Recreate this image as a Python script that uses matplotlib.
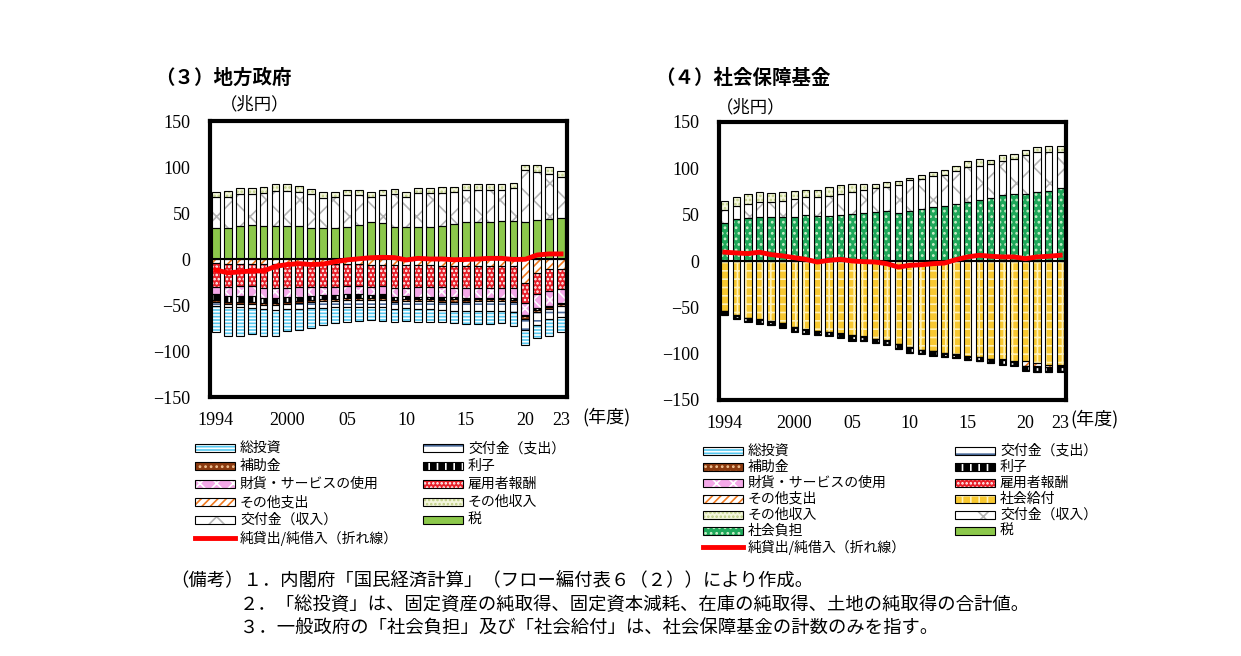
import matplotlib
matplotlib.use('Agg')
import matplotlib.pyplot as plt
from matplotlib.patches import Rectangle
import numpy as np

plt.rcParams['font.family'] = ['Noto Sans CJK JP', 'DejaVu Sans']
plt.rcParams['hatch.linewidth'] = 1.2

W, H = 1241, 656

years = list(range(1994, 2024))
tick_pos = [0, 6, 11, 16, 21, 26, 29]
tick_labels = ['1994', '2000', '05', '10', '15', '20', '23']

# ---- (3) 地方政府 (兆円) ----
loc_tax = [33.3, 34.0, 36.2, 37.0, 36.2, 36.2, 36.2, 36.2, 34.0, 33.3,
           34.0, 35.0, 37.0, 40.6, 39.5, 35.0, 35.0, 35.0, 35.0, 36.2,
           37.7, 39.9, 40.6, 40.6, 41.3, 41.7, 40.6, 42.4, 43.5, 45.0]
loc_transfer_in = [33.7, 33.8, 34.1, 33.3, 35.2, 38.1, 38.1, 37.0, 36.3, 32.6,
                   33.8, 34.6, 32.6, 27.2, 30.1, 35.7, 32.0, 36.4, 36.4, 35.8,
                   35.5, 35.1, 34.4, 34.4, 33.7, 35.1, 56.1, 52.6, 48.9, 43.8]
loc_other_in = [6.2, 6.5, 6.5, 6.5, 6.5, 6.9, 6.9, 6.1, 5.4, 6.6,
                5.4, 5.4, 5.4, 5.4, 5.4, 5.0, 6.2, 5.4, 5.4, 5.9,
                5.4, 6.2, 6.2, 6.2, 6.2, 6.2, 5.3, 7.0, 8.0, 7.2]
loc_other_out = [-4.7, -5.0, -5.0, -5.0, -5.0, -5.0, -5.2, -5.2, -5.4, -5.5,
                 -5.5, -5.6, -5.8, -6.0, -6.2, -6.5, -6.8, -7.0, -7.0, -7.2,
                 -7.2, -7.4, -7.4, -7.4, -7.5, -7.6, -25.7, -15.6, -11.2, -11.2]
loc_comp = [-25.3, -25.0, -24.5, -24.5, -27.0, -26.5, -25.8, -25.3, -24.6, -24.5,
            -24.5, -23.4, -23.2, -24.0, -22.8, -24.5, -24.2, -23.0, -23.0, -22.8,
            -23.8, -23.6, -23.6, -23.6, -23.5, -23.4, -21.8, -22.4, -23.6, -21.8]
loc_goods = [-8.4, -10.2, -10.7, -10.7, -10.0, -10.5, -10.0, -10.5, -10.2, -9.0,
             -9.0, -9.4, -9.4, -9.0, -9.4, -10.0, -9.2, -11.0, -11.0, -11.7,
             -10.7, -11.0, -11.0, -11.0, -11.0, -11.7, -13.5, -15.6, -15.9, -14.5]
loc_interest = [-6.0, -6.2, -6.2, -6.0, -5.8, -5.6, -5.3, -5.0, -4.7, -4.4,
                -4.1, -3.9, -3.7, -3.6, -3.5, -3.3, -3.1, -2.9, -2.7, -2.5,
                -2.3, -2.1, -1.9, -1.7, -1.6, -1.5, -1.4, -1.3, -1.2, -1.2]
loc_subsidy = [-2.2, -2.2, -2.2, -2.2, -2.2, -2.2, -2.2, -2.2, -2.2, -2.2,
               -2.2, -2.2, -2.2, -2.2, -2.2, -2.2, -2.2, -2.2, -2.2, -2.2,
               -2.2, -2.2, -2.2, -2.2, -2.2, -2.2, -3.0, -3.0, -2.5, -2.5]
loc_transfer_out = [-4.1, -3.2, -3.2, -4.6, -4.3, -5.6, -5.8, -6.1, -6.4, -7.9,
                    -6.5, -7.3, -7.5, -7.0, -7.7, -8.2, -8.0, -8.6, -8.8, -9.0,
                    -9.8, -9.7, -9.9, -10.1, -10.2, -11.2, -11.6, -13.5, -10.6, -11.5]
loc_invest = [-29.0, -31.5, -31.5, -29.0, -29.0, -27.9, -24.3, -22.7, -21.9, -18.2,
              -18.2, -16.2, -15.2, -14.5, -15.9, -14.1, -13.5, -13.3, -13.3, -13.4,
              -14.0, -14.5, -14.5, -14.5, -14.0, -14.9, -17.0, -14.6, -18.5, -16.3]
loc_net = [-12.0, -15.0, -14.0, -13.0, -13.0, -8.0, -6.0, -5.0, -6.0, -5.5,
           -3.0, -1.0, 0.2, 1.4, 1.8, 1.5, -1.0, 0.7, 0.0, 0.0,
           -0.8, -0.5, 0.0, 0.7, 0.7, -0.5, -0.3, 4.4, 5.5, 5.5]

# ---- (4) 社会保障基金 (兆円) ----
ss_tax = [0.0] * 30
ss_contrib = [41.5, 45.0, 46.2, 47.3, 47.3, 47.3, 47.3, 49.5, 48.4, 48.4,
              49.5, 50.5, 51.6, 53.0, 54.2, 51.6, 54.2, 56.0, 58.0, 59.6,
              61.5, 64.0, 65.8, 68.0, 71.3, 72.4, 72.7, 74.5, 75.6, 78.9]
ss_transfer_in = [13.0, 14.0, 15.3, 16.3, 16.3, 17.7, 19.7, 19.5, 20.6, 22.1,
                  22.9, 24.0, 25.4, 26.0, 25.4, 30.6, 32.7, 32.7, 33.3, 33.4,
                  35.2, 37.5, 36.7, 36.4, 36.3, 37.4, 41.5, 43.3, 42.4, 38.9]
ss_other_in = [9.9, 10.0, 10.9, 10.9, 9.9, 9.5, 8.3, 7.4, 7.4, 9.1,
               9.8, 8.8, 6.3, 4.3, 5.9, 4.3, 2.9, 4.3, 4.3, 4.8,
               6.2, 6.9, 7.3, 5.1, 6.6, 5.5, 5.4, 4.7, 5.6, 5.8]
ss_benefit = [-53.8, -58.5, -61.0, -62.9, -64.7, -66.9, -71.3, -73.8, -75.6, -76.3,
              -78.2, -80.0, -81.4, -84.0, -85.4, -89.4, -93.0, -95.6, -96.7, -99.2,
              -100.3, -102.9, -103.2, -105.4, -106.2, -108.3, -107.6, -110.2, -112.0, -112.7]
ss_other_out = [-0.2] * 26 + [-5.5, -3.5, -2.0, -0.8]
ss_comp = [-0.2] * 30
ss_goods = [-0.3] * 30
ss_interest = [-2.9, -2.6, -2.6, -2.9, -2.9, -3.3, -3.2, -2.9, -2.9, -2.6,
               -2.9, -4.0, -3.3, -2.9, -3.3, -3.7, -4.4, -2.6, -3.7, -3.0,
               -2.6, -2.5, -3.4, -3.0, -4.0, -2.9, -3.8, -4.7, -4.4, -4.2]
ss_subsidy = [-0.1] * 30
ss_transfer_out = [-0.6] * 30
ss_invest = [-0.4] * 30
ss_net = [9.5, 8.7, 8.0, 9.5, 6.9, 5.5, 3.6, 1.8, -1.1, 0.7,
          1.8, 0.0, -0.7, -1.1, -2.9, -6.5, -4.7, -4.0, -2.9, -2.2,
          1.5, 4.4, 6.2, 5.1, 4.4, 4.4, 2.5, 4.4, 5.1, 6.2]

# fill style, hatch, hatch colour
STY = {
    '総投資': ('#55C8F0', '-----', 'white'),
    '交付金（支出）': ('white', '--', '#4A6A9A'),
    '補助金': ('#8B3A0F', '...', '#F0C090'),
    '利子': ('black', '||', 'white'),
    '財貨・サービスの使用': ('#F4A8E8', 'xx', 'white'),
    '雇用者報酬': ('#E8202A', '....', 'white'),
    'その他支出': ('white', '////', '#F07A20'),
    '社会給付': ('#F8C830', '++', '#FFF2B8'),
    'その他収入': ('#F4F6DC', '....', '#C0D088'),
    '交付金（収入）': ('white', 'x', '#B4B4B4'),
    '社会負担': ('#1EA85A', '...', '#C8F0C8'),
    '税': ('#8CC84B', None, '#8CC84B'),
}
NET_LABEL = '純貸出/純借入（折れ線）'


def stack(ax, series, width):
    x = np.arange(30)
    base = np.zeros(30)
    for name, vals in series:
        v = np.array(vals)
        fc, hatch, hc = STY[name]
        ax.bar(x, v, width, bottom=base, color=fc, hatch=hatch, edgecolor=hc, lw=0, zorder=2)
        ax.bar(x, v, width, bottom=base, fill=False, edgecolor='black', lw=0.8, zorder=3)
        base = base + v


def setup(ax):
    ax.set_xlim(-0.5, 29.5)
    ax.set_ylim(-150, 150)
    ax.set_yticks(range(-150, 151, 50))
    ax.set_yticklabels([f'−{-t}' if t < 0 else str(t) for t in range(-150, 151, 50)],
                       family='Liberation Serif', fontsize=13)
    ax.set_xticks(tick_pos)
    ax.set_xticklabels(tick_labels, family='Liberation Serif', fontsize=13)
    ax.tick_params(length=0, pad=11)
    ax.tick_params(axis='y', pad=14)
    for s in ax.spines.values():
        s.set_linewidth(3)
    ax.axhline(0, color='black', lw=1.5, zorder=4)


def legend(fig, items, xs, y0, dy):
    n1 = (len(items) + 1) // 2
    for i, name in enumerate(items):
        col, row = (0, i) if i < n1 else (1, i - n1)
        x = xs[col]
        y = y0 + row * dy
        if name == NET_LABEL:
            fig.add_artist(plt.Line2D([x / W, (x + 40) / W], [1 - y / H, 1 - y / H],
                                      color='#FF0000', lw=3.5, transform=fig.transFigure))
        else:
            fc, hatch, hc = STY[name]
            r = (x / W, 1 - (y + 4) / H)
            fig.add_artist(Rectangle(r, 40 / W, 8 / H, transform=fig.transFigure,
                                     facecolor=fc, hatch=hatch, edgecolor=hc, lw=0))
            fig.add_artist(Rectangle(r, 40 / W, 8 / H, transform=fig.transFigure,
                                     fill=False, edgecolor='black', lw=0.8))
        fig.text((x + 45) / W, 1 - y / H, name, fontsize=10, va='center')


fig = plt.figure(figsize=(W / 100, H / 100), dpi=100)

# (3) local government
ax1 = fig.add_axes([210 / W, 1 - 397 / H, 357 / W, 276 / H])
stack(ax1, [('税', loc_tax), ('交付金（収入）', loc_transfer_in), ('その他収入', loc_other_in)], 0.65)
stack(ax1, [('その他支出', loc_other_out), ('雇用者報酬', loc_comp), ('財貨・サービスの使用', loc_goods),
            ('利子', loc_interest), ('補助金', loc_subsidy), ('交付金（支出）', loc_transfer_out),
            ('総投資', loc_invest)], 0.65)
ax1.plot(np.arange(30), loc_net, color='#FF0000', lw=3.5, zorder=5)
setup(ax1)

# (4) social security funds
ax2 = fig.add_axes([719 / W, 1 - 400 / H, 347 / W, 278 / H])
stack(ax2, [('税', ss_tax), ('社会負担', ss_contrib), ('交付金（収入）', ss_transfer_in),
            ('その他収入', ss_other_in)], 0.63)
stack(ax2, [('社会給付', ss_benefit), ('その他支出', ss_other_out), ('雇用者報酬', ss_comp),
            ('財貨・サービスの使用', ss_goods), ('利子', ss_interest), ('補助金', ss_subsidy),
            ('交付金（支出）', ss_transfer_out), ('総投資', ss_invest)], 0.63)
ax2.plot(np.arange(30), ss_net, color='#FF0000', lw=3.5, zorder=5)
setup(ax2)

# titles and units
fig.text(155 / W, 1 - 78 / H, '（３）地方政府', fontsize=14, fontweight='bold', va='center')
fig.text(655 / W, 1 - 78 / H, '（４）社会保障基金', fontsize=14, fontweight='bold', va='center')
fig.text(220 / W, 1 - 104 / H, '（兆円）', fontsize=12.5, va='center')
fig.text(716 / W, 1 - 107 / H, '（兆円）', fontsize=12.5, va='center')
fig.text(582 / W, 1 - 417 / H, '(年度)', fontsize=13, va='center')
fig.text(1070 / W, 1 - 419 / H, '(年度)', fontsize=13, va='center')

legend(fig, ['総投資', '補助金', '財貨・サービスの使用', 'その他支出', '交付金（収入）', NET_LABEL,
             '交付金（支出）', '利子', '雇用者報酬', 'その他収入', '税'],
       [195, 423], 448, 18)
legend(fig, ['総投資', '補助金', '財貨・サービスの使用', 'その他支出', 'その他収入', '社会負担', NET_LABEL,
             '交付金（支出）', '利子', '雇用者報酬', '社会給付', '交付金（収入）', '税'],
       [703, 955], 451, 16)

notes = [
    (170, 580, '（備考）１．内閣府「国民経済計算」（フロー編付表６（２））により作成。'),
    (240, 605, '２．「総投資」は、固定資産の純取得、固定資本減耗、在庫の純取得、土地の純取得の合計値。'),
    (240, 629, '３．一般政府の「社会負担」及び「社会給付」は、社会保障基金の計数のみを指す。'),
]
for x, y, t in notes:
    fig.text(x / W, 1 - y / H, t, fontsize=13.2, va='center')

fig.savefig('out.png', dpi=100)
